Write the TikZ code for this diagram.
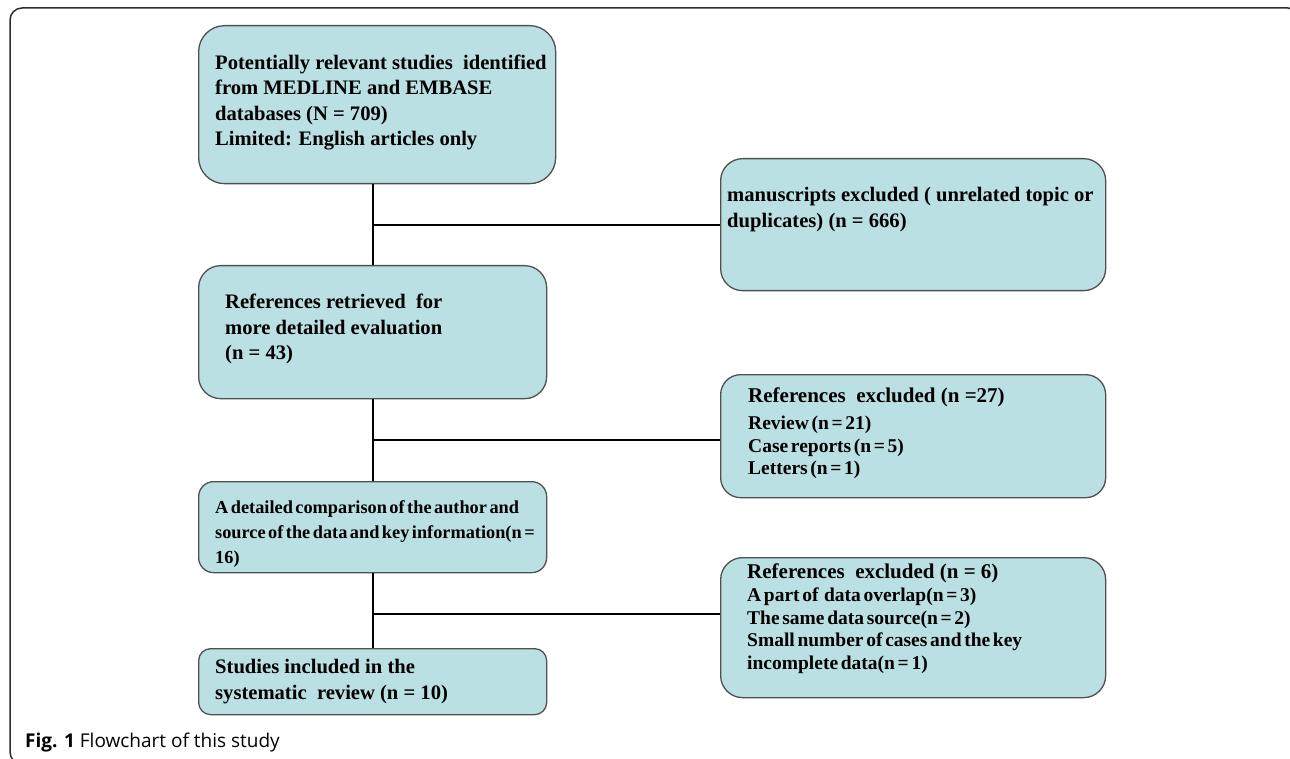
\documentclass[tikz,border=0pt]{standalone}
\usepackage{fontspec}
\setmainfont{Liberation Serif}
\newfontfamily\capfont{Open Sans}
\newfontfamily\tightfont[WordSpace=0.55]{Liberation Serif}
\definecolor{boxfill}{RGB}{187,224,227}
\definecolor{boxline}{RGB}{80,80,80}
\definecolor{framecol}{RGB}{45,45,45}
\begin{document}
\begin{tikzpicture}[x=1pt,y=-1pt,
  flowbox/.style={draw=boxline, line width=1.3pt, fill=boxfill, inner sep=0pt, anchor=north west},
  btext/.style={anchor=north west, inner sep=0pt, align=left, font=\bfseries\fontsize{20.6}{25.5}\selectfont},
  stext/.style={anchor=north west, inner sep=0pt, align=left, font=\tightfont\bfseries\fontsize{19.5}{22.5}\selectfont},
  dtext/.style={anchor=north west, inner sep=0pt, align=left, font=\tightfont\bfseries\fontsize{18.3}{25}\selectfont},
  conn/.style={line width=2pt, black}
]
\useasboundingbox (0,0) rectangle (1290,759);
\begin{scope}
\clip (0,0) rectangle (1290,759);
\draw[line width=1.5pt, draw=framecol, rounded corners=12pt] (10,8) rectangle (1300,764);
\end{scope}

% boxes
\node[flowbox, minimum width=357pt, minimum height=158pt, rounded corners=26pt] (b1) at (198,25) {};
\node[flowbox, minimum width=385pt, minimum height=132pt, rounded corners=22pt] (b2) at (720,158) {};
\node[flowbox, minimum width=348pt, minimum height=133pt, rounded corners=22pt] (b3) at (198,265) {};
\node[flowbox, minimum width=385pt, minimum height=123pt, rounded corners=20pt] (b4) at (720,374) {};
\node[flowbox, minimum width=348pt, minimum height=91pt, rounded corners=15pt] (b5) at (198,481) {};
\node[flowbox, minimum width=385pt, minimum height=140pt, rounded corners=22pt] (b6) at (720,557) {};
\node[flowbox, minimum width=348pt, minimum height=66pt, rounded corners=12pt] (b7) at (198,648) {};

% texts
\node[btext] (t1) at (215,51.15) {\strut Potentially relevant studies~ identified\\ from MEDLINE and EMBASE\\ databases (N = 709)\\ Limited: English articles only};
\node[btext] (t2) at (727,183.65) {\strut manuscripts excluded ( unrelated topic or\\ duplicates) (n = 666)};
\node[btext] (t3) at (225,290.65) {\strut References retrieved~ for\\ more detailed evaluation\\ (n = 43)};
\node[stext] (t4) at (748,386.6) {{\rmfamily\bfseries\fontsize{21}{22.5}\selectfont\strut References~ excluded (n =27)}\\[4.5pt] Review (n = 21)\\ Case reports (n = 5)\\ Letters (n = 1)};
\node[dtext] (t5) at (215,495.5) {\strut A detailed comparison of the author and\\ source of the data and key information(n =\\ 16)};
\node[stext] (t6) at (747,562.6) {{\rmfamily\bfseries\fontsize{21}{22.5}\selectfont\strut References~ excluded (n = 6)}\\[0.5pt] A part of~ data overlap(n = 3)\\ The same data source(n = 2)\\ Small number of cases and the key\\ incomplete data(n = 1)};
\node[btext] (t7) at (215,655.65) {\strut Studies included in the\\ systematic~ review (n = 10)};

% connectors
\coordinate (j2) at ([yshift=-4pt]b4.west);
\coordinate (j3) at ([yshift=14pt]b6.west);
\draw[conn] (b3.north |- b1.south) -- (b3.north);
\draw[conn] (b3.north |- b2.west) -- (b2.west);
\draw[conn] (b3.south) -- (b5.north);
\draw[conn] (b3.south |- j2) -- (j2);
\draw[conn] (b5.south) -- (b7.north);
\draw[conn] (b5.south |- j3) -- (j3);

% caption
\node[anchor=base west, inner sep=0pt, font=\capfont\fontsize{19}{23}\selectfont] (cap) at (25,747) {\textbf{Fig. 1} Flowchart of this study};
\end{tikzpicture}
\end{document}
